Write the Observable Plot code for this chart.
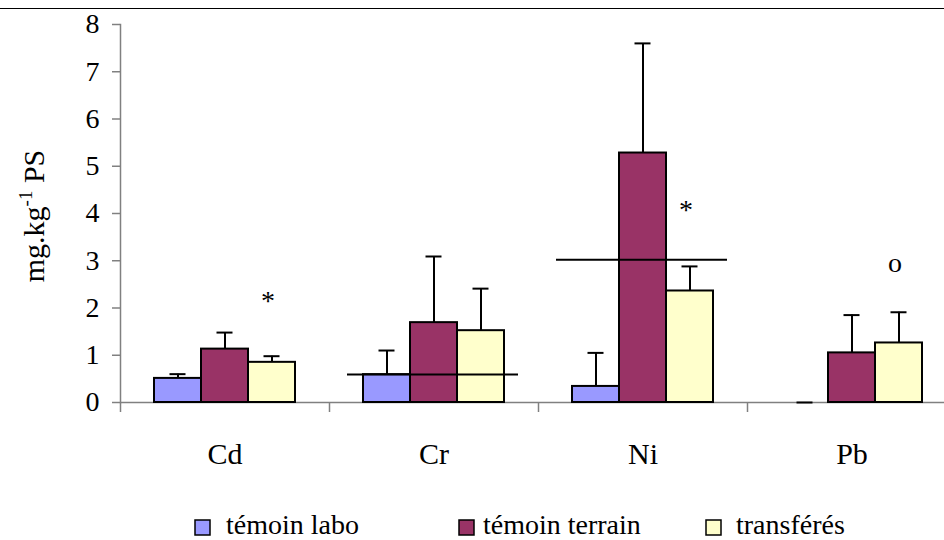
<!DOCTYPE html>
<html><head><meta charset="utf-8">
<script src="https://cdn.jsdelivr.net/npm/d3@7"></script>
<script src="https://cdn.jsdelivr.net/npm/@observablehq/plot@0.6"></script>
<style>
html,body{margin:0;padding:0;background:#fff;overflow:hidden;width:944px;height:540px;color:#000;}
#wrap{position:relative;width:944px;height:540px;overflow:hidden;}
#topline{position:absolute;left:0;top:8px;width:944px;height:0;border-top:1.5px solid #000;}
#chart svg, #legend svg{display:block;}
#legend text{font-family:"Liberation Serif","Times New Roman",serif;font-size:28px;}
</style></head><body>
<div id="wrap"><div id="chart"></div><div id="legend"></div><div id="topline"></div></div>
<script>
// ---- data ----
const categories = ["Cd", "Cr", "Ni", "Pb"];
const seriesNames = ["témoin labo", "témoin terrain", "transférés"];
const seriesColors = ["#9999ff", "#993366", "#ffffcc"];
const temoinLabo = [0.51, 0.59, 0.34, 0];
const temoinLaboErr = [0.09, 0.51, 0.71, 0];
const temoinTerrain = [1.13, 1.69, 5.28, 1.05];
const temoinTerrainErr = [0.35, 1.40, 2.32, 0.80];
const transferes = [0.85, 1.52, 2.36, 1.26];
const transferesErr = [0.13, 0.89, 0.52, 0.65];
const yTicks = [0, 1, 2, 3, 4, 5, 6, 7, 8];
const refCategories = ["Cr", "Ni"];
const refValues = [0.59, 3.02];
const noteCategories = ["Cd", "Ni", "Pb"];
const noteLabels = ["*", "*", "o"];
const noteY = [2.15, 4.08, 2.96];

// ---- tables built from the arrays ----
const values = [temoinLabo, temoinTerrain, transferes];
const errors = [temoinLaboErr, temoinTerrainErr, transferesErr];
const rows = [];
seriesNames.forEach((s, si) => categories.forEach((c, ci) => {
  rows.push({cat: c, series: s, si, value: values[si][ci], err: errors[si][ci]});
}));
const refs = refCategories.map((c, i) => ({cat: c, y: refValues[i]}));
const notes = noteCategories.map((c, i) => ({cat: c, label: noteLabels[i], y: noteY[i]}));

const W = 944, H = 488;
const mL = 120, mR = -12, mT = 24, mB = 86;
const band = (W - mR - mL) / categories.length; // 209
const barW = 47;
const barInset = (band - barW) / 2;
const capW = 16;
const capInset = (band - capW) / 2;
const font = "Liberation Serif";

const marks = [];
marks.push(Plot.ruleY([0], {stroke: "#808080", strokeWidth: 1.5}));
marks.push(Plot.frame({anchor: "left", stroke: "#808080", strokeWidth: 1.5}));
seriesNames.forEach((s, si) => {
  const data = rows.filter(d => d.si === si);
  const dx = (si - 1) * barW;
  marks.push(Plot.barY(data, {x: "cat", y: "value", fill: "series", stroke: "#000", strokeWidth: 2,
    insetLeft: barInset, insetRight: barInset, dx}));
});
seriesNames.forEach((s, si) => {
  const data = rows.filter(d => d.si === si);
  const dx = (si - 1) * barW;
  marks.push(Plot.ruleX(data, {x: "cat", y1: "value", y2: d => d.value + d.err, stroke: "#000", strokeWidth: 2, dx}));
  marks.push(Plot.tickY(data, {x: "cat", y: d => d.value + d.err, stroke: "#000", strokeWidth: 2,
    insetLeft: capInset, insetRight: capInset, dx}));
});
marks.push(Plot.ruleY(refs, {x1: "cat", x2: "cat", y: "y", stroke: "#000", strokeWidth: 2, insetLeft: 18, insetRight: 20}));
marks.push(Plot.text(notes, {x: "cat", y: "y", text: "label", dx: barW - 4, fontSize: 28, fontFamily: font, fill: "#000"}));
marks.push(Plot.axisY(yTicks, {tickSize: 8, tickPadding: 13, stroke: "#808080", strokeWidth: 1.5, fill: "#000",
  fontSize: 28, fontFamily: font, label: null}));
marks.push(Plot.axisX({tickSize: 10, dx: -band / 2, stroke: "#808080", strokeWidth: 1.5, fill: "none", label: null}));
marks.push(Plot.axisX({tickSize: 0, tickPadding: 40, fill: "#000", fontSize: 30, fontFamily: font, label: null}));

const chart = Plot.plot({
  width: W, height: H,
  marginLeft: mL, marginRight: mR, marginTop: mT, marginBottom: mB,
  style: {fontFamily: font, fontSize: "28px", background: "#fff", color: "#000", overflow: "hidden"},
  x: {domain: categories, padding: 0},
  y: {domain: [0, 8]},
  color: {domain: seriesNames, range: seriesColors},
  marks
});
document.getElementById("chart").appendChild(chart);

// y-axis title with superscript
const svg = d3.select(chart);
const t = svg.append("text")
  .attr("transform", "translate(44,216) rotate(-90)")
  .attr("text-anchor", "middle")
  .attr("font-family", font)
  .attr("font-size", 30)
  .attr("fill", "#000");
t.append("tspan").text("mg.kg");
t.append("tspan").attr("font-size", 19).attr("dy", -12).text("-1");
t.append("tspan").attr("dy", 12).text(" PS");

// legend below the plot svg (its own small svg)
const legendPos = [{sq: 195, tx: 226}, {sq: 459, tx: 483}, {sq: 706, tx: 736}];
const LH = 540 - H;
const lsvg = d3.select("#legend").append("svg")
  .attr("width", W).attr("height", LH);
seriesNames.forEach((s, i) => {
  lsvg.append("rect")
    .attr("x", legendPos[i].sq).attr("y", 32)
    .attr("width", 15).attr("height", 15)
    .attr("fill", seriesColors[i]).attr("stroke", "#000").attr("stroke-width", 1.5);
  lsvg.append("text")
    .attr("x", legendPos[i].tx).attr("y", 46)
    .attr("font-family", font)
    .attr("font-size", 28)
    .attr("fill", "#000")
    .text(s);
});
</script>
</body></html>
